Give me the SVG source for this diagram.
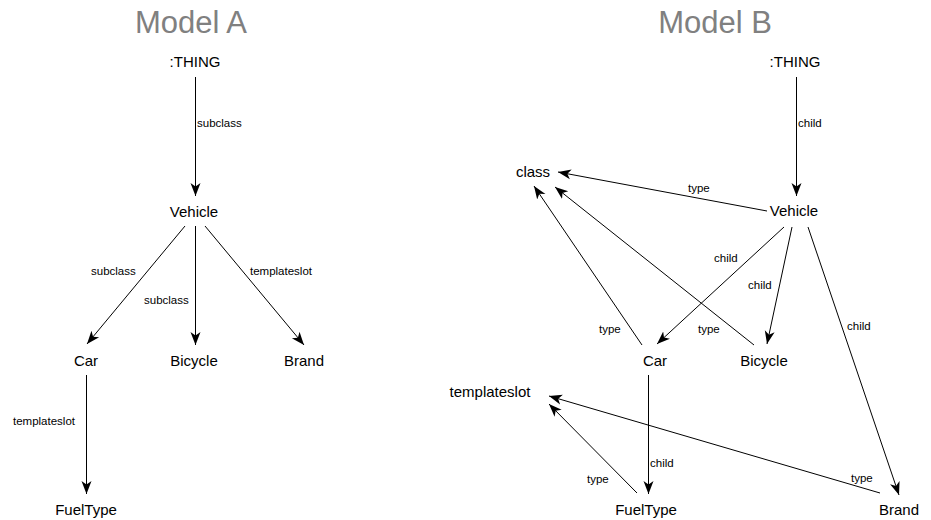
<svg xmlns="http://www.w3.org/2000/svg" width="931" height="520" viewBox="0 0 931 520">
<defs>
<marker id="ah" markerWidth="14" markerHeight="12" refX="13" refY="6" orient="auto" markerUnits="userSpaceOnUse">
<path d="M0,1 L13,6 L0,11 L3.5,6 Z" fill="#000"/>
</marker>
<style>
text{font-family:"Liberation Sans",Arial,sans-serif;fill:#000}
.title{font-size:31px;fill:#808080;text-anchor:middle}
.node{font-size:15px;text-anchor:middle}
.lbl{font-size:11.5px}
.edge{stroke:#000;stroke-width:1;fill:none;marker-end:url(#ah)}
</style>
</defs>
<rect width="931" height="520" fill="#fff"/>
<text class="title" x="191" y="33">Model A</text>
<text class="title" x="715" y="33">Model B</text>

<g id="connectors">
<line class="edge" x1="195.5" y1="77" x2="195.5" y2="196"/>
<line class="edge" x1="185" y1="226" x2="87" y2="344"/>
<line class="edge" x1="195.5" y1="226" x2="195.5" y2="345"/>
<line class="edge" x1="205" y1="226" x2="304" y2="345"/>
<line class="edge" x1="86.5" y1="375" x2="86.5" y2="494"/>
<text class="lbl" x="197" y="127">subclass</text>
<text class="lbl" x="91" y="275">subclass</text>
<text class="lbl" x="144" y="304">subclass</text>
<text class="lbl" x="250" y="275">templateslot</text>
<text class="lbl" x="13" y="425">templateslot</text>
<line class="edge" x1="796.5" y1="77" x2="796.5" y2="196"/>
<line class="edge" x1="767" y1="211" x2="558" y2="172"/>
<line class="edge" x1="784" y1="227" x2="657" y2="344"/>
<line class="edge" x1="792" y1="227" x2="767" y2="344"/>
<line class="edge" x1="808" y1="227" x2="899" y2="495"/>
<line class="edge" x1="642" y1="345" x2="534" y2="186"/>
<line class="edge" x1="754" y1="345" x2="555" y2="187"/>
<line class="edge" x1="648.5" y1="375" x2="648.5" y2="494"/>
<line class="edge" x1="637" y1="493" x2="549" y2="404"/>
<line class="edge" x1="880" y1="493" x2="549" y2="396"/>
<text class="lbl" x="798" y="127">child</text>
<text class="lbl" x="688" y="192">type</text>
<text class="lbl" x="714" y="262">child</text>
<text class="lbl" x="748" y="289">child</text>
<text class="lbl" x="847" y="330">child</text>
<text class="lbl" x="599" y="333">type</text>
<text class="lbl" x="698" y="333">type</text>
<text class="lbl" x="650" y="467">child</text>
<text class="lbl" x="587" y="483">type</text>
<text class="lbl" x="851" y="482">type</text>
</g>

<g id="a-thing"><text class="node" x="195" y="67">:THING</text></g>
<g id="a-vehicle"><text class="node" x="194" y="217">Vehicle</text></g>
<g id="a-car"><text class="node" x="86" y="366">Car</text></g>
<g id="a-bicycle"><text class="node" x="194" y="366">Bicycle</text></g>
<g id="a-brand"><text class="node" x="304" y="366">Brand</text></g>
<g id="a-fueltype"><text class="node" x="86" y="515">FuelType</text></g>

<g id="b-thing"><text class="node" x="795" y="67">:THING</text></g>
<g id="b-vehicle"><text class="node" x="794" y="216">Vehicle</text></g>
<g id="b-class"><text class="node" x="533" y="177">class</text></g>
<g id="b-car"><text class="node" x="655" y="366">Car</text></g>
<g id="b-bicycle"><text class="node" x="764" y="366">Bicycle</text></g>
<g id="b-templateslot"><text class="node" x="490" y="397">templateslot</text></g>
<g id="b-fueltype"><text class="node" x="646" y="515">FuelType</text></g>
<g id="b-brand"><text class="node" x="899" y="515">Brand</text></g>
</svg>
